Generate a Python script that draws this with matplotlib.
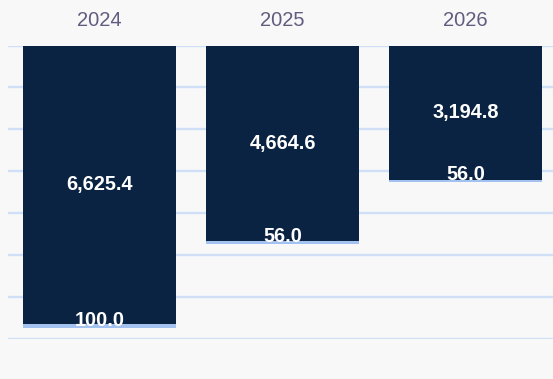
import numpy as np
import matplotlib.pyplot as plt

plt.rcParams['font.family'] = ['Liberation Sans', 'DejaVu Sans']

# %%
years = ['2024', '2025', '2026']
main_values = [6625.4, 4664.6, 3194.8]
base_values = [100.0, 56.0, 56.0]

navy = '#0b2342'
light_blue = '#a4c2f0'
grid_color = '#cfdff6'
bg = '#f8f8f8'

# %%
fig = plt.figure(figsize=(5.53, 3.79), dpi=100, facecolor=bg)
ax = fig.add_axes([8 / 553, 1 - 339.3 / 379, 545 / 553, (339.3 - 45.5) / 379])
ax.set_facecolor(bg)

x = np.arange(len(years))
width = 0.836

# bars hang down from zero, main segment first then the small base segment
ax.bar(x, main_values, width, color=navy, zorder=3)
ax.bar(x, base_values, width, bottom=main_values, color=light_blue, zorder=3)

for xi, m, b in zip(x, main_values, base_values):
    ax.text(xi, m / 2, f'{m:,.1f}', ha='center', va='center',
            color='white', fontsize=14.3, fontweight='bold', zorder=4)
    ax.text(xi, m + b - 40, f'{b:,.1f}', ha='center', va='baseline',
            color='white', fontsize=14.3, fontweight='bold', zorder=4)

ax.set_xlim(-0.5, 2.477)
ax.set_ylim(7000, 0)
ax.set_yticks(np.arange(0, 7001, 1000))
ax.set_yticklabels([])
ax.tick_params(axis='y', length=0)
ax.grid(axis='y', color=grid_color, linewidth=1.7, zorder=0)

ax.xaxis.tick_top()
ax.set_xticks(x)
ax.set_xticklabels(years, fontsize=14.5, color='#625d80')
ax.tick_params(axis='x', length=0, pad=11)

for s in ax.spines.values():
    s.set_visible(False)

fig.savefig('out.png', dpi=100, facecolor=bg)
